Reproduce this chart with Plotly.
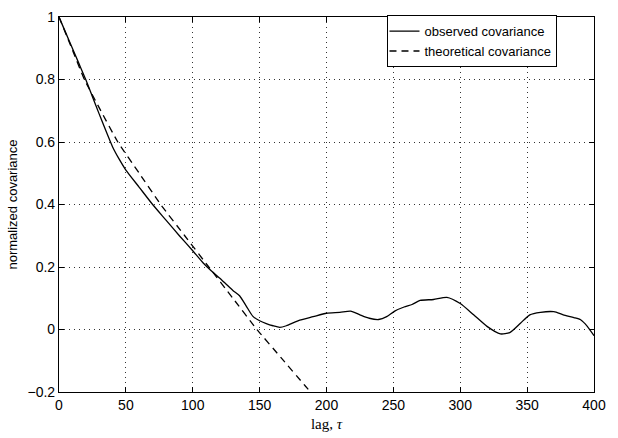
import plotly.graph_objects as go

# observed covariance
obs_lag = [0, 5, 10, 15, 20, 25, 30, 40, 45, 50, 60, 70, 80, 90, 100, 108, 114, 120, 125,
           130, 135, 140, 145, 150, 155, 160, 165, 170, 175, 180, 190, 200, 210, 218, 225,
           232, 239, 245, 251, 258, 264, 270, 280, 290, 300, 310, 320, 330, 337, 345, 352,
           360, 370, 377, 385, 390, 395, 400]
obs_cov = [1.0, 0.95, 0.9, 0.85, 0.8, 0.745, 0.69, 0.585, 0.545, 0.51, 0.455, 0.4, 0.35,
           0.3, 0.252, 0.212, 0.187, 0.165, 0.145, 0.125, 0.108, 0.075, 0.042, 0.028, 0.019,
           0.012, 0.007, 0.012, 0.021, 0.03, 0.041, 0.052, 0.055, 0.059, 0.047, 0.036,
           0.032, 0.041, 0.059, 0.072, 0.08, 0.093, 0.096, 0.103, 0.083, 0.047, 0.01,
           -0.014, -0.01, 0.02, 0.047, 0.055, 0.057, 0.047, 0.038, 0.031, 0.01, -0.02]

# theoretical covariance
th_lag = [0, 10, 19, 30, 44, 60, 76, 94, 112, 130, 148, 166, 184, 190]
th_cov = [1.0, 0.895, 0.8, 0.71, 0.6, 0.5, 0.4, 0.3, 0.2, 0.1, 0.0, -0.09, -0.18, -0.21]

x_ticks = [0, 50, 100, 150, 200, 250, 300, 350, 400]
y_ticks = [-0.2, 0, 0.2, 0.4, 0.6, 0.8, 1]
y_tick_text = ["\u22120.2", "0", "0.2", "0.4", "0.6", "0.8", "1"]

fig = go.Figure()
fig.add_trace(go.Scatter(x=obs_lag, y=obs_cov, mode="lines", name="observed covariance",
                         line=dict(color="black", width=1.3, shape="spline", smoothing=0.6)))
fig.add_trace(go.Scatter(x=th_lag, y=th_cov, mode="lines", name="theoretical covariance",
                         line=dict(color="black", width=1.3, dash="7px,5px", shape="spline",
                                   smoothing=0.4)))

axis_common = dict(
    showline=True, linecolor="black", linewidth=1.2, mirror="ticks",
    ticks="inside", ticklen=5, tickcolor="black",
    showgrid=True, gridcolor="rgba(0,0,0,0.8)", gridwidth=1, griddash="1px,4px",
    zeroline=False,
    tickfont=dict(family="Liberation Sans, Arial, sans-serif", size=14, color="black"),
)

fig.update_xaxes(range=[0, 400], tickvals=x_ticks, **axis_common,
                 title=dict(text="lag, <i>τ</i>", standoff=6,
                            font=dict(family="Liberation Serif, Times New Roman, serif",
                                      size=15, color="black")))
fig.update_yaxes(range=[-0.2, 1.0], tickvals=y_ticks, ticktext=y_tick_text, **axis_common,
                 title=dict(text="normalized covariance", standoff=6,
                            font=dict(family="Liberation Sans, Arial, sans-serif",
                                      size=13, color="black")))

fig.update_layout(
    width=618, height=438,
    margin=dict(l=59, r=24, t=9, b=44),
    plot_bgcolor="white", paper_bgcolor="white",
    showlegend=True,
    legend=dict(x=0.614, y=1.005, xanchor="left", yanchor="top",
                bgcolor="white", bordercolor="black", borderwidth=1,
                font=dict(family="Liberation Sans, Arial, sans-serif", size=13, color="black"),
                tracegroupgap=0, itemwidth=30, indentation=-4),
)

fig.write_html("out.html")
